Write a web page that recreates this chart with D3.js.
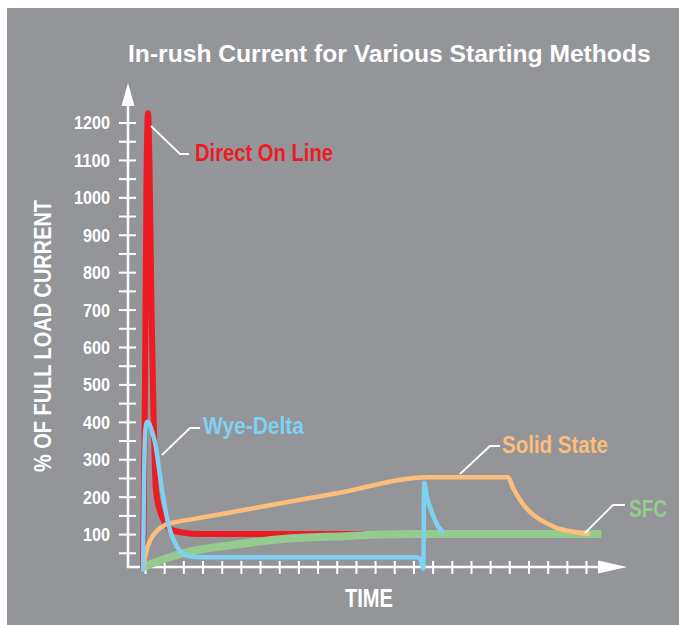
<!DOCTYPE html>
<html>
<head>
<meta charset="utf-8">
<script src="https://cdn.jsdelivr.net/npm/d3@7"></script>
<style>
  html, body { margin: 0; padding: 0; background: #ffffff; }
  svg { display: block; }
  text { font-family: "Liberation Sans Narrow", "Arial Narrow", "Liberation Sans", sans-serif; font-weight: bold; }
</style>
</head>
<body>
<script>
// ---- Data (time units = x-axis ticks, values = % of full load current) ----
const title = "In-rush Current for Various Starting Methods";
const yTitle = "% OF FULL LOAD CURRENT";
const xTitle = "TIME";
const yTickLabels = [100, 200, 300, 400, 500, 600, 700, 800, 900, 1000, 1100, 1200];
const xTickCount = 24; // ticks at t = 0..23

const seriesNames = ["Direct On Line", "Wye-Delta", "Solid State", "SFC"];

const dolT = [-0.1, 0.0, 0.08, 0.16, 0.26, 0.34, 0.42, 0.57, 0.89, 1.41, 2.0, 2.9, 4.0, 12.5];
const dolV = [5, 500, 1050, 1225, 1000, 700, 485, 218, 146, 111, 104, 100, 100, 100];

const wyeT = [-0.1, -0.06, 0.0, 0.08, 0.16, 0.3, 0.52, 0.89, 1.2, 1.67, 2.2, 3.0, 8.0, 14.1, 14.35, 14.45, 14.52, 14.56, 14.7, 14.95, 15.3, 15.6];
const wyeV = [0, 200, 360, 398, 400, 385, 345, 218, 130, 66, 42, 38, 38, 38, 34, 18, 8, 237, 200, 160, 119, 103];

const ssT = [-0.1, 0.05, 0.3, 0.65, 1.05, 1.5, 2.5, 5.0, 10.0, 14.76, 18.94, 19.2, 19.56, 20.0, 20.6, 21.0, 21.5, 22.27, 23.2];
const ssV = [5, 50, 86, 110, 124, 131, 140, 163, 209, 252, 252, 223, 191, 163, 139, 128, 116, 107, 100];

const sfcT = [-0.1, 1.98, 4.59, 7.2, 10.7, 12.3, 14.3, 23.8];
const sfcV = [12, 49, 71, 87, 95, 99, 100, 100];

const colors = { dol: "#ED1C24", wye: "#7FD1F4", ss: "#FDBE7B", sfc: "#95CB8F", bg: "#939598" };

// ---- Layout ----
const W = 679, H = 625;
const svg = d3.select("body").append("svg").attr("width", W).attr("height", H);

svg.append("rect").attr("x", 0).attr("y", 0).attr("width", W).attr("height", H).attr("fill", "#ffffff");
svg.append("rect").attr("x", 7).attr("y", 8).attr("width", W - 7).attr("height", H - 8).attr("fill", colors.bg);

const x = d3.scaleLinear().domain([0, 23]).range([145, 586]);
const y = d3.scaleLinear().domain([0, 1200]).range([571.5, 122.5]);

const axisY0 = 567, axisX0 = 128;

// Title: fit font size so width matches
const titleText = svg.append("text").attr("x", 128).attr("y", 62).attr("fill", "#fff")
  .attr("font-size", 27).text(title);
const tw = titleText.node().getComputedTextLength();
if (tw > 0) titleText.attr("font-size", Math.min(30, 27 * 523 / tw));

// Y axis title
svg.append("text").attr("transform", "translate(51,336) rotate(-90)")
  .attr("text-anchor", "middle").attr("fill", "#fff").attr("font-size", 24)
  .attr("textLength", 272).attr("lengthAdjust", "spacingAndGlyphs")
  .text(yTitle);

// X axis title
svg.append("text").attr("x", 369).attr("y", 607).attr("text-anchor", "middle")
  .attr("fill", "#fff").attr("font-size", 25)
  .attr("textLength", 48).attr("lengthAdjust", "spacingAndGlyphs")
  .text(xTitle);

// Y axis with d3 axis (ticks every 50)
const yAxisG = svg.append("g").attr("transform", `translate(${axisX0},0)`);
const yAxis = d3.axisLeft(y).tickValues(d3.range(50, 1201, 50)).tickSize(0).tickFormat("");
yAxisG.call(yAxis);
yAxisG.select(".domain").remove();
yAxisG.selectAll(".tick line").remove();
yAxisG.selectAll(".tick").append("line")
  .attr("x1", -9).attr("x2", 8).attr("stroke", "#fff").attr("stroke-width", 2);
yAxisG.selectAll(".tick")
  .filter(d => yTickLabels.includes(d))
  .append("text").attr("x", -18).attr("dy", "0.36em").attr("text-anchor", "end")
  .attr("fill", "#fff").attr("font-size", 18)
  .attr("textLength", d => String(d).length * 9).attr("lengthAdjust", "spacingAndGlyphs")
  .text(d => d);

// X axis ticks
const xAxisG = svg.append("g").attr("transform", `translate(0,${axisY0})`);
const xAxis = d3.axisBottom(x).tickValues(d3.range(0, xTickCount)).tickSize(0).tickFormat("");
xAxisG.call(xAxis);
xAxisG.select(".domain").remove();
xAxisG.selectAll(".tick line").remove();
xAxisG.selectAll(".tick").append("line")
  .attr("y1", -6).attr("y2", 7).attr("stroke", "#fff").attr("stroke-width", 2);

// Axis lines and arrows
svg.append("path").attr("d", `M${axisX0},${axisY0} L${axisX0},104`).attr("stroke", "#fff").attr("stroke-width", 2.5).attr("fill", "none");
svg.append("path").attr("d", `M${axisX0 - 1.25},${axisY0} L600,${axisY0}`).attr("stroke", "#fff").attr("stroke-width", 2.5).attr("fill", "none");
svg.append("path").attr("d", `M${axisX0},83 L${axisX0 - 6.5},106 L${axisX0 + 6.5},106 Z`).attr("fill", "#fff");
svg.append("path").attr("d", `M627,${axisY0} L598,${axisY0 - 6.5} L598,${axisY0 + 6.5} Z`).attr("fill", "#fff");

// Curves
const line = d3.line().x(d => x(d[0])).y(d => y(d[1])).curve(d3.curveMonotoneX);
const zip = (a, b) => a.map((t, i) => [t, b[i]]);

const plot = svg.append("g");
plot.append("path").datum(zip(dolT, dolV)).attr("d", line)
  .attr("fill", "none").attr("stroke", colors.dol).attr("stroke-width", 6).attr("stroke-linejoin", "miter");
plot.append("path").datum(zip(sfcT, sfcV)).attr("d", line)
  .attr("fill", "none").attr("stroke", colors.sfc).attr("stroke-width", 8);
plot.append("path").datum(zip(ssT, ssV)).attr("d", line)
  .attr("fill", "none").attr("stroke", colors.ss).attr("stroke-width", 4.5);
plot.append("path").datum(zip(wyeT, wyeV)).attr("d", line)
  .attr("fill", "none").attr("stroke", colors.wye).attr("stroke-width", 4.5);

// Leader lines and labels
const labels = [
  { name: seriesNames[0], color: colors.dol, pts: [[151,126],[180,154],[189,154]], tx: 195, ty: 161, len: 138 },
  { name: seriesNames[1], color: colors.wye, pts: [[162,455],[190,428],[200,428]], tx: 203, ty: 434, len: 101 },
  { name: seriesNames[2], color: colors.ss, pts: [[460,474],[490,446],[500,446]], tx: 502, ty: 453, len: 106 },
  { name: seriesNames[3], color: colors.sfc, pts: [[585,533],[613,505],[625,505]], tx: 629, ty: 517, len: 38 }
];
labels.forEach(l => {
  svg.append("path").attr("d", d3.line()(l.pts)).attr("fill", "none").attr("stroke", "#fff").attr("stroke-width", 1.8);
  svg.append("text").attr("x", l.tx).attr("y", l.ty).attr("fill", l.color).attr("font-size", 24)
    .attr("textLength", l.len).attr("lengthAdjust", "spacingAndGlyphs").text(l.name);
});
</script>
</body>
</html>
